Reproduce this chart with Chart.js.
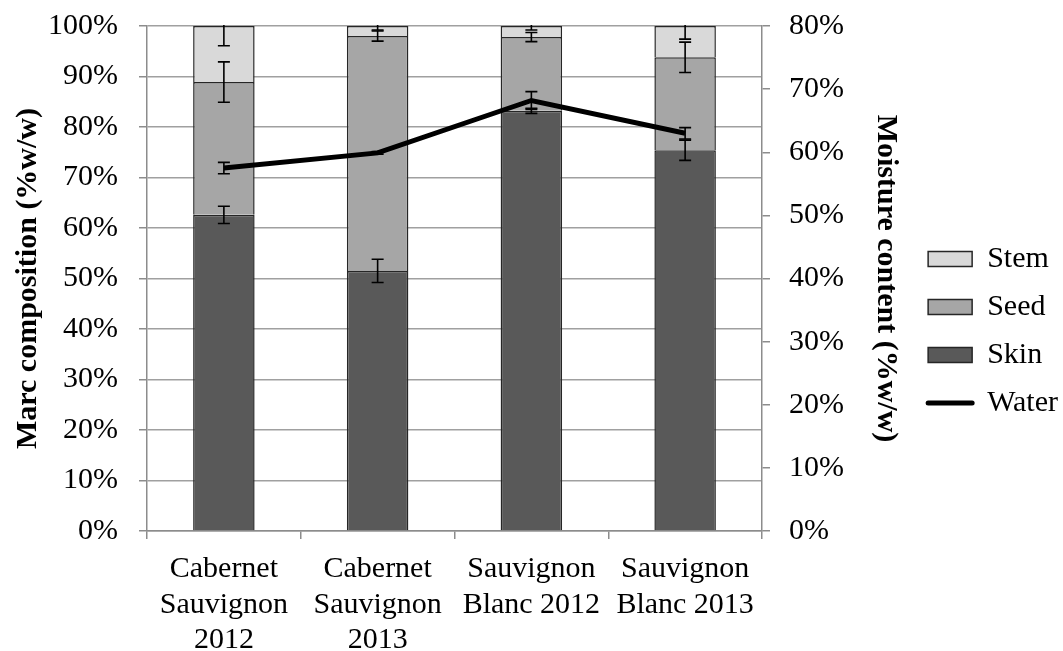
<!DOCTYPE html>
<html>
<head>
<meta charset="utf-8">
<script src="https://cdn.jsdelivr.net/npm/chart.js@4/dist/chart.umd.min.js"></script>
<style>
  html, body { margin: 0; padding: 0; background: #fff; }
  #wrap { width: 1063px; height: 651px; }
</style>
</head>
<body>
<div id="wrap"><canvas id="c" width="1063" height="651"></canvas></div>
<script>
// Grape marc composition by variety/vintage, with moisture content on the right axis
const categories = [
  ["Cabernet", "Sauvignon", "2012"],
  ["Cabernet", "Sauvignon", "2013"],
  ["Sauvignon", "Blanc 2012"],
  ["Sauvignon", "Blanc 2013"]
];
const skin  = [62.6, 51.5, 83.2, 75.4];
const seed  = [26.3, 46.5, 14.6, 18.4];
const stem  = [11.1, 2.0, 2.2, 6.2];
const water = [57.5, 59.9, 68.2, 63.0];

const skinErr  = [1.7, 2.3, 0.5, 2.0];
const seedErr  = [4.0, 1.0, 0.9, 3.0];
const stemErr  = [3.9, 0.8, 0.8, 2.6];
const waterErr = [0.9, 0.2, 1.4, 0.9];

const leftTicks  = [0, 10, 20, 30, 40, 50, 60, 70, 80, 90, 100];
const rightTicks = [0, 10, 20, 30, 40, 50, 60, 70, 80];

const FONT = "'Liberation Serif', 'Times New Roman', serif";
Chart.defaults.font.family = FONT;
Chart.defaults.font.size = 30;
Chart.defaults.color = '#000';

const edge = '#262626';
const gridCol = '#a0a0a0';
const axisCol = '#8c8c8c';
const PAD_RIGHT = -5;

// Whiskers for each stacked segment top and for the moisture line
const errorBars = {
  id: 'errorBars',
  afterDatasetsDraw(chart) {
    const {ctx, chartArea} = chart;
    const xs = chart.scales.x, ys = chart.scales.y, y2 = chart.scales.y2;
    const cap = 6;
    ctx.save();
    ctx.beginPath();
    ctx.rect(chartArea.left, chartArea.top - 1, chartArea.right - chartArea.left, chartArea.bottom - chartArea.top + 2);
    ctx.clip();
    ctx.strokeStyle = '#000';
    ctx.lineWidth = 1.6;
    const whisker = (x, yTop, yBot) => {
      ctx.beginPath();
      ctx.moveTo(x, yTop); ctx.lineTo(x, yBot);
      ctx.moveTo(x - cap, yTop); ctx.lineTo(x + cap, yTop);
      ctx.moveTo(x - cap, yBot); ctx.lineTo(x + cap, yBot);
      ctx.stroke();
    };
    const layers = [[skin, skinErr], [seed, seedErr], [stem, stemErr]];
    categories.forEach((_, i) => {
      const x = xs.getPixelForValue(i);
      let cum = 0;
      layers.forEach(([vals, errs]) => {
        cum += vals[i];
        whisker(x, ys.getPixelForValue(cum + errs[i]), ys.getPixelForValue(cum - errs[i]));
      });
      whisker(x, y2.getPixelForValue(water[i] + waterErr[i]), y2.getPixelForValue(water[i] - waterErr[i]));
    });
    ctx.restore();
  }
};

const legendOrder = ['Stem', 'Seed', 'Skin', 'Water'];

function noEdgePadding(s) { s.paddingTop = 0; s.paddingBottom = 0; }

new Chart(document.getElementById('c'), {
  type: 'bar',
  data: {
    labels: categories,
    datasets: [
      { label: 'Skin', data: skin, backgroundColor: '#595959', borderColor: edge, borderWidth: 1.5, yAxisID: 'y', order: 2 },
      { label: 'Seed', data: seed, backgroundColor: '#a6a6a6', borderColor: edge, borderWidth: 1.5, yAxisID: 'y', order: 2 },
      { label: 'Stem', data: stem, backgroundColor: '#d9d9d9', borderColor: edge, borderWidth: 1.5, yAxisID: 'y', order: 2 },
      { label: 'Water', type: 'line', data: water, borderColor: '#000', backgroundColor: '#000', borderWidth: 5,
        pointRadius: 0, tension: 0, yAxisID: 'y2', order: 1, borderCapStyle: 'butt', borderJoinStyle: 'miter' }
    ]
  },
  options: {
    responsive: false,
    animation: false,
    events: [],
    layout: { padding: { top: 26, bottom: 0, left: 0, right: PAD_RIGHT } },
    datasets: { bar: { barPercentage: 0.4, categoryPercentage: 1.0 } },
    scales: {
      x: {
        stacked: true,
        offset: true,
        afterFit(s) { s.height = 120; },
        grid: { offset: true, drawOnChartArea: false, color: axisCol, lineWidth: 1.5, tickLength: 8 },
        border: { color: axisCol, width: 1.5 },
        ticks: { padding: 13, font: { size: 30, lineHeight: 1.17 }, maxRotation: 0, autoSkip: false }
      },
      y: {
        stacked: true,
        position: 'left',
        min: 0, max: 100,
        afterFit(s) { s.width = 147; noEdgePadding(s); },
        afterBuildTicks(s) { s.ticks = leftTicks.map(v => ({ value: v })); },
        grid: { color: gridCol, lineWidth: 1.5, tickLength: 8, tickColor: axisCol },
        border: { color: axisCol, width: 1.5 },
        ticks: { padding: 21, callback: v => v + '%' },
        title: { display: true, text: 'Marc composition (%w/w)', font: { size: 30, weight: 'bold', lineHeight: 1.2 }, padding: { top: 10, bottom: 0 } }
      },
      y2: {
        position: 'right',
        min: 0, max: 80,
        afterFit(s) {
          const lg = s.chart.legend;
          const lw = lg && lg.width ? lg.width : 150;
          s.width = s.chart.width - PAD_RIGHT - 762 - lw;
          noEdgePadding(s);
        },
        afterBuildTicks(s) { s.ticks = rightTicks.map(v => ({ value: v })); },
        grid: { drawOnChartArea: false, color: axisCol, lineWidth: 1.5, tickLength: 8 },
        border: { color: axisCol, width: 1.5 },
        ticks: { padding: 19, callback: v => v + '%' },
        title: { display: true, text: 'Moisture content (%w/w)', font: { size: 30, weight: 'bold', lineHeight: 1.6 }, padding: { top: 0, bottom: 0 } }
      }
    },
    plugins: {
      tooltip: { enabled: false },
      legend: {
        position: 'right',
        align: 'start',
        title: { display: true, text: '', font: { size: 30, lineHeight: 1.2 }, padding: { top: 164, bottom: 0 } },
        labels: {
          usePointStyle: true,
          pointStyleWidth: 44,
          boxHeight: 15,
          padding: 18,
          font: { size: 30 },
          color: '#000',
          generateLabels(chart) {
            const items = Chart.defaults.plugins.legend.labels.generateLabels(chart);
            items.forEach(it => {
              if (it.text === 'Water') {
                it.pointStyle = 'line';
                it.lineWidth = 5;
                it.strokeStyle = '#000';
                it.lineCap = 'round';
              } else {
                it.pointStyle = 'rect';
                it.lineWidth = 1.5;
                it.strokeStyle = edge;
              }
            });
            return items.sort((a, b) => legendOrder.indexOf(a.text) - legendOrder.indexOf(b.text));
          }
        }
      }
    }
  },
  plugins: [errorBars]
});
</script>
</body>
</html>
